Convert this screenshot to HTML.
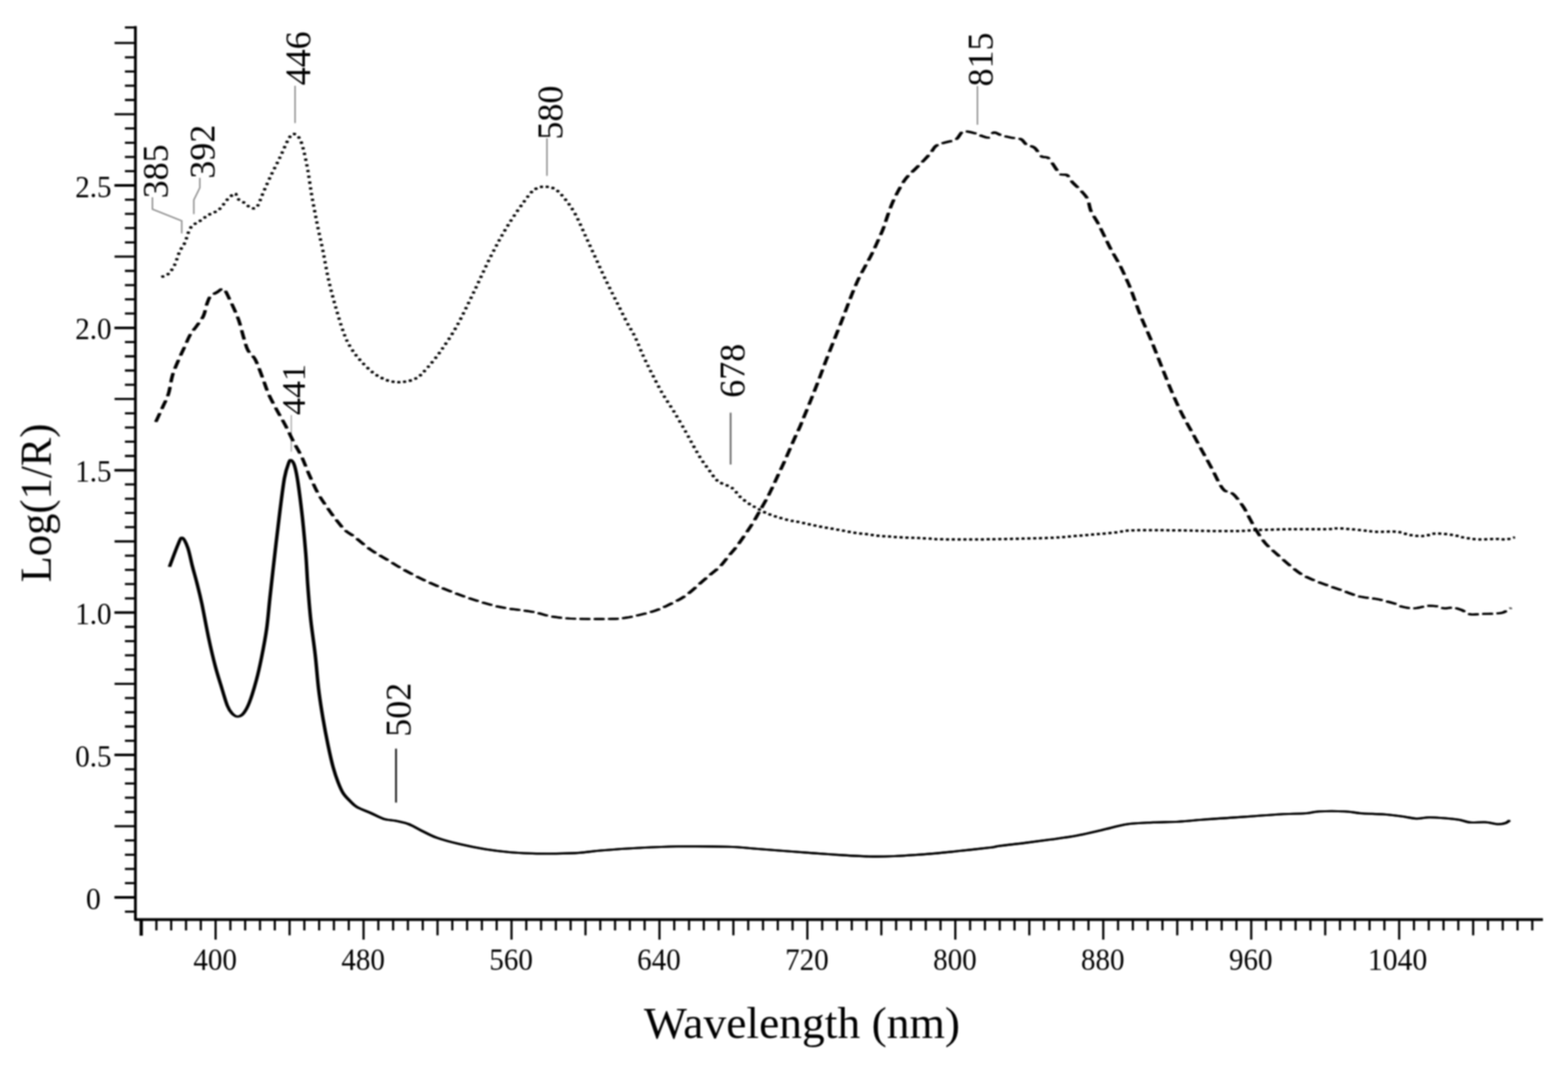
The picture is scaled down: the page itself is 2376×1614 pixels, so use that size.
<!DOCTYPE html>
<html lang="en"><head><meta charset="utf-8"><title>Log(1/R) vs Wavelength (nm)</title>
<style>
html,body{margin:0;padding:0;background:#fff;}
body{width:2376px;height:1614px;overflow:hidden;}
svg{display:block;}
#chart{filter:blur(1px);}
text{font-family:"Liberation Serif",serif;fill:#000;}
.tl{font-size:46.5px;}
.tt{font-size:67px;}
.pk{font-size:54px;}
.ax{stroke:#000;stroke-width:4.2;stroke-linejoin:round;fill:none;}
.tk{stroke:#000;stroke-width:3.3;fill:none;}
.lg{stroke:#8c8c8c;stroke-width:2.2;fill:none;}
.ld{stroke:#111;stroke-width:2.7;fill:none;}
.lm{stroke:#666;stroke-width:2.6;fill:none;}
.lt{stroke:#999;stroke-width:1.6;fill:none;}
.c{fill:none;stroke:#000;stroke-linejoin:round;}
.sol{stroke-width:3.1;}
.dash{stroke-width:3.2;stroke-dasharray:14.5 7;}
.dot{stroke-width:3.5;stroke-dasharray:3.3 5.5;}
</style></head>
<body>
<svg width="2376" height="1614" viewBox="0 0 2376 1614">
<rect width="2376" height="1614" fill="#fff"/>
<g id="chart">
<path d="M205.2 39.5V1393.7H2338" class="ax"/>
<path d="M214 1393.7V1418" class="ax" style="stroke-width:5"/>
<path d="M189.3 1381.6H205.2M173.6 1360.0H205.2M189.3 1338.4H205.2M189.3 1316.8H205.2M189.3 1295.3H205.2M189.3 1273.7H205.2M173.6 1252.1H205.2M189.3 1230.5H205.2M189.3 1208.9H205.2M189.3 1187.4H205.2M189.3 1165.8H205.2M173.6 1144.2H205.2M189.3 1122.6H205.2M189.3 1101.0H205.2M189.3 1079.5H205.2M189.3 1057.9H205.2M173.6 1036.3H205.2M189.3 1014.7H205.2M189.3 993.1H205.2M189.3 971.6H205.2M189.3 950.0H205.2M173.6 928.4H205.2M189.3 906.8H205.2M189.3 885.2H205.2M189.3 863.7H205.2M189.3 842.1H205.2M173.6 820.5H205.2M189.3 798.9H205.2M189.3 777.3H205.2M189.3 755.8H205.2M189.3 734.2H205.2M173.6 712.6H205.2M189.3 691.0H205.2M189.3 669.4H205.2M189.3 647.9H205.2M189.3 626.3H205.2M173.6 604.7H205.2M189.3 583.1H205.2M189.3 561.5H205.2M189.3 540.0H205.2M189.3 518.4H205.2M173.6 496.8H205.2M189.3 475.2H205.2M189.3 453.6H205.2M189.3 432.1H205.2M189.3 410.5H205.2M173.6 388.9H205.2M189.3 367.3H205.2M189.3 345.7H205.2M189.3 324.2H205.2M189.3 302.6H205.2M173.6 281.0H205.2M189.3 259.4H205.2M189.3 237.8H205.2M189.3 216.3H205.2M189.3 194.7H205.2M173.6 173.1H205.2M189.3 151.5H205.2M189.3 129.9H205.2M189.3 108.4H205.2M189.3 86.8H205.2M173.6 65.2H205.2M189.3 41.6H205.2" class="tk"/>
<path d="M173.6 1360.0H205.2M173.6 1144.2H205.2M173.6 928.4H205.2M173.6 712.6H205.2M173.6 496.8H205.2M173.6 281.0H205.2" class="tk" style="stroke-width:3.8"/>
<path d="M237.0 1393.7V1410.0M259.4 1393.7V1410.0M281.9 1393.7V1410.0M304.3 1393.7V1410.0M326.7 1393.7V1424.0M349.1 1393.7V1410.0M371.5 1393.7V1410.0M394.0 1393.7V1410.0M416.4 1393.7V1410.0M438.8 1393.7V1417.5M461.2 1393.7V1410.0M483.6 1393.7V1410.0M506.0 1393.7V1410.0M528.5 1393.7V1410.0M550.9 1393.7V1424.0M573.3 1393.7V1410.0M595.7 1393.7V1410.0M618.1 1393.7V1410.0M640.6 1393.7V1410.0M663.0 1393.7V1417.5M685.4 1393.7V1410.0M707.8 1393.7V1410.0M730.2 1393.7V1410.0M752.6 1393.7V1410.0M775.1 1393.7V1424.0M797.5 1393.7V1410.0M819.9 1393.7V1410.0M842.3 1393.7V1410.0M864.7 1393.7V1410.0M887.2 1393.7V1417.5M909.6 1393.7V1410.0M932.0 1393.7V1410.0M954.4 1393.7V1410.0M976.8 1393.7V1410.0M999.3 1393.7V1424.0M1021.7 1393.7V1410.0M1044.1 1393.7V1410.0M1066.5 1393.7V1410.0M1088.9 1393.7V1410.0M1111.3 1393.7V1417.5M1133.8 1393.7V1410.0M1156.2 1393.7V1410.0M1178.6 1393.7V1410.0M1201.0 1393.7V1410.0M1223.4 1393.7V1424.0M1245.9 1393.7V1410.0M1268.3 1393.7V1410.0M1290.7 1393.7V1410.0M1313.1 1393.7V1410.0M1335.5 1393.7V1417.5M1357.9 1393.7V1410.0M1380.4 1393.7V1410.0M1402.8 1393.7V1410.0M1425.2 1393.7V1410.0M1447.6 1393.7V1424.0M1470.0 1393.7V1410.0M1492.5 1393.7V1410.0M1514.9 1393.7V1410.0M1537.3 1393.7V1410.0M1559.7 1393.7V1417.5M1582.1 1393.7V1410.0M1604.5 1393.7V1410.0M1627.0 1393.7V1410.0M1649.4 1393.7V1410.0M1671.8 1393.7V1424.0M1694.2 1393.7V1410.0M1716.6 1393.7V1410.0M1739.1 1393.7V1410.0M1761.5 1393.7V1410.0M1783.9 1393.7V1417.5M1806.3 1393.7V1410.0M1828.7 1393.7V1410.0M1851.2 1393.7V1410.0M1873.6 1393.7V1410.0M1896.0 1393.7V1424.0M1918.4 1393.7V1410.0M1940.8 1393.7V1410.0M1963.2 1393.7V1410.0M1985.7 1393.7V1410.0M2008.1 1393.7V1417.5M2030.5 1393.7V1410.0M2052.9 1393.7V1410.0M2075.3 1393.7V1410.0M2097.8 1393.7V1410.0M2120.2 1393.7V1424.0M2142.6 1393.7V1410.0M2165.0 1393.7V1410.0M2187.4 1393.7V1410.0M2209.8 1393.7V1410.0M2232.3 1393.7V1417.5M2254.7 1393.7V1410.0M2277.1 1393.7V1410.0M2299.5 1393.7V1410.0M2321.9 1393.7V1410.0" class="tk"/>
<text x="141.6" y="1377.6" class="tl" text-anchor="middle" textLength="22.5" lengthAdjust="spacingAndGlyphs">0</text>
<text x="141.6" y="1161.8" class="tl" text-anchor="middle" textLength="55.0" lengthAdjust="spacingAndGlyphs">0.5</text>
<text x="141.6" y="946.0" class="tl" text-anchor="middle" textLength="55.0" lengthAdjust="spacingAndGlyphs">1.0</text>
<text x="141.6" y="730.2" class="tl" text-anchor="middle" textLength="55.0" lengthAdjust="spacingAndGlyphs">1.5</text>
<text x="141.6" y="514.4" class="tl" text-anchor="middle" textLength="55.0" lengthAdjust="spacingAndGlyphs">2.0</text>
<text x="141.6" y="298.6" class="tl" text-anchor="middle" textLength="55.0" lengthAdjust="spacingAndGlyphs">2.5</text>
<text x="326.0" y="1470.4" class="tl" text-anchor="middle" textLength="66" lengthAdjust="spacingAndGlyphs">400</text>
<text x="550.2" y="1470.4" class="tl" text-anchor="middle" textLength="66" lengthAdjust="spacingAndGlyphs">480</text>
<text x="774.4" y="1470.4" class="tl" text-anchor="middle" textLength="66" lengthAdjust="spacingAndGlyphs">560</text>
<text x="998.6" y="1470.4" class="tl" text-anchor="middle" textLength="66" lengthAdjust="spacingAndGlyphs">640</text>
<text x="1222.7" y="1470.4" class="tl" text-anchor="middle" textLength="66" lengthAdjust="spacingAndGlyphs">720</text>
<text x="1446.9" y="1470.4" class="tl" text-anchor="middle" textLength="66" lengthAdjust="spacingAndGlyphs">800</text>
<text x="1671.1" y="1470.4" class="tl" text-anchor="middle" textLength="66" lengthAdjust="spacingAndGlyphs">880</text>
<text x="1895.3" y="1470.4" class="tl" text-anchor="middle" textLength="66" lengthAdjust="spacingAndGlyphs">960</text>
<text x="2117.7" y="1470.4" class="tl" text-anchor="middle" textLength="90" lengthAdjust="spacingAndGlyphs">1040</text>
<text x="1215.3" y="1572.8" class="tt" text-anchor="middle" textLength="479" lengthAdjust="spacingAndGlyphs">Wavelength (nm)</text>
<text transform="translate(76.9 762.2) rotate(-90)" class="tt" text-anchor="middle" textLength="240.5" lengthAdjust="spacingAndGlyphs">Log(1/R)</text>
<text transform="translate(254.4 300.6) rotate(-90)" class="pk" style="font-size:54.5px">385</text>
<text transform="translate(325.4 270.8) rotate(-90)" class="pk" style="font-size:54.5px">392</text>
<text transform="translate(469.9 129.3) rotate(-90)" class="pk" style="font-size:54.5px">446</text>
<text transform="translate(461.6 628.9) rotate(-90)" class="pk" style="font-size:51.5px">441</text>
<text transform="translate(851.8 211.4) rotate(-90)" class="pk" style="font-size:54.5px">580</text>
<text transform="translate(1127.5 602.8) rotate(-90)" class="pk" style="font-size:54.5px">678</text>
<text transform="translate(1503.7 130.9) rotate(-90)" class="pk" style="font-size:54.5px">815</text>
<text transform="translate(622.0 1116.4) rotate(-90)" class="pk" style="font-size:54.5px">502</text>
<path d="M231 299V317L275.4 334.7V353.7M302.8 269.5V284.6L293.7 303V324.5M447.1 130V186.4M828.8 209.5V266.6M1481.1 130.5V189" class="lg"/>
<path d="M441.4 629V684.5" class="lt"/>
<path d="M1107.1 625.4V704" class="lm"/>
<path d="M600.1 1134.6V1216.3" class="ld"/>
<g class="c dot"><path d="M245.2 419.8C246.9 418.9 252.3 417.7 255.5 414.7C258.7 411.7 261.7 407.3 264.5 401.7C267.3 396.1 269.7 386.6 272.3 381.0C274.9 375.4 277.2 374.0 280.0 368.0C282.8 362.0 285.1 350.6 289.0 345.0C292.9 339.4 298.8 337.8 303.3 334.6C307.8 331.4 311.5 328.4 316.2 325.6C320.9 322.8 327.0 321.7 331.7 317.8C336.4 313.9 340.5 306.4 344.6 302.3C348.7 298.2 353.6 293.5 356.2 293.3C358.8 293.1 357.6 298.6 360.0 301.0C362.4 303.4 366.9 305.1 370.4 307.5C373.8 309.9 377.5 314.3 380.7 315.2C383.9 316.1 386.8 316.6 389.8 312.7C392.8 308.8 395.2 300.2 398.8 292.0C402.4 283.8 407.4 272.6 411.7 263.6C416.0 254.6 420.5 246.4 424.6 237.8C428.7 229.2 433.2 217.8 436.5 212.0C439.8 206.2 441.6 203.4 444.5 203.0C447.4 202.6 451.0 205.3 453.6 209.4C456.2 213.5 457.9 219.3 460.0 227.5C462.1 235.7 464.6 247.6 466.5 258.4C468.4 269.1 470.0 281.7 471.7 292.0C473.4 302.3 475.2 311.4 476.9 320.4C478.6 329.4 479.9 335.9 482.0 346.2C484.1 356.5 487.2 369.5 489.8 382.4C492.4 395.3 494.7 409.9 497.8 423.7C500.9 437.5 504.6 451.4 508.5 465.0C512.4 478.6 517.2 494.8 521.0 505.0C524.8 515.2 527.0 519.3 531.0 526.0C535.0 532.7 539.3 538.6 545.0 545.0C550.7 551.4 558.0 559.2 565.0 564.5C572.0 569.8 579.7 574.1 587.0 576.5C594.3 578.9 601.7 579.6 609.0 579.0C616.3 578.4 624.5 576.7 631.0 573.0C637.5 569.3 641.8 564.0 648.0 557.0C654.2 550.0 661.1 541.6 668.5 531.0C675.9 520.4 684.3 508.3 692.6 493.4C700.9 478.5 709.8 459.4 718.4 441.8C727.0 424.2 735.6 404.3 744.2 387.5C752.8 370.7 760.6 356.1 770.0 341.0C779.4 325.9 793.3 306.2 800.5 297.0C807.7 287.8 808.8 287.9 813.0 285.6C817.2 283.3 821.1 282.8 825.8 283.0C830.5 283.2 836.1 283.6 841.3 286.8C846.5 290.0 851.6 295.8 856.8 302.3C862.0 308.8 867.1 316.2 872.3 325.6C877.5 335.1 882.6 347.8 887.8 359.0C893.0 370.2 898.1 381.5 903.3 392.7C908.5 403.9 913.6 415.5 918.8 426.3C924.0 437.1 929.1 447.0 934.3 457.3C939.5 467.6 945.2 479.4 949.8 488.2C954.4 497.0 957.8 501.4 962.0 510.0C966.2 518.6 970.7 530.7 975.0 540.0C979.3 549.3 983.1 556.8 987.8 566.0C992.5 575.2 997.7 585.8 1003.3 595.5C1008.9 605.2 1015.4 614.1 1021.4 624.0C1027.4 633.9 1034.0 645.4 1039.4 655.0C1044.8 664.6 1049.9 674.3 1054.0 681.5C1058.1 688.7 1060.6 692.9 1064.0 698.0C1067.4 703.1 1070.8 707.4 1074.2 712.0C1077.6 716.6 1081.1 722.5 1084.3 725.9C1087.5 729.3 1089.0 729.9 1093.2 732.2C1097.4 734.5 1104.9 736.2 1109.7 739.8C1114.5 743.4 1117.7 749.5 1122.3 753.7C1126.9 757.9 1133.7 762.5 1137.5 765.0C1141.3 767.5 1141.0 766.9 1145.0 769.0C1149.0 771.1 1155.9 775.3 1161.6 777.8C1167.3 780.3 1173.4 782.2 1179.3 784.0C1185.2 785.8 1192.7 787.8 1197.0 788.8C1201.3 789.8 1200.8 789.1 1205.2 790.0C1209.6 790.9 1217.2 792.6 1223.2 793.9C1229.2 795.2 1235.3 796.6 1241.3 797.8C1247.3 799.0 1253.4 799.9 1259.4 801.0C1265.4 802.1 1271.4 803.1 1277.4 804.2C1283.4 805.3 1289.5 806.6 1295.5 807.5C1301.5 808.4 1307.6 808.9 1313.6 809.6C1319.6 810.4 1325.7 811.4 1331.7 812.0C1337.7 812.6 1343.7 812.9 1349.7 813.3C1355.7 813.7 1361.5 814.2 1367.8 814.5C1374.0 814.8 1381.2 815.0 1387.2 815.2C1393.2 815.5 1398.2 815.7 1404.0 816.0C1409.8 816.3 1413.0 817.0 1422.0 817.2C1431.0 817.5 1445.2 817.5 1458.2 817.5C1471.2 817.5 1484.4 817.5 1500.0 817.3C1515.6 817.1 1535.5 816.6 1551.6 816.2C1567.7 815.8 1583.9 815.5 1596.8 814.9C1609.7 814.2 1618.2 813.2 1629.0 812.3C1639.8 811.4 1650.6 810.7 1661.4 809.7C1672.2 808.7 1685.0 807.5 1693.6 806.5C1702.2 805.5 1702.3 804.4 1713.0 803.9C1723.7 803.4 1744.0 803.6 1758.0 803.6C1772.0 803.6 1785.4 803.7 1797.0 803.9C1808.6 804.1 1813.9 804.5 1827.6 804.6C1841.3 804.7 1866.4 804.8 1879.3 804.6C1892.2 804.4 1892.1 803.7 1905.0 803.3C1917.9 802.9 1939.5 802.2 1956.7 802.0C1973.9 801.8 1996.4 802.2 2008.4 802.0C2020.5 801.8 2020.4 800.5 2029.0 800.7C2037.6 800.9 2050.5 802.4 2060.0 803.3C2069.5 804.2 2076.3 805.5 2085.8 805.9C2095.3 806.3 2108.2 805.0 2116.8 805.9C2125.4 806.8 2130.6 809.9 2137.5 811.0C2144.4 812.1 2151.6 812.7 2158.0 812.3C2164.4 811.9 2168.9 808.6 2176.2 808.4C2183.5 808.2 2194.7 809.9 2202.0 811.0C2209.3 812.1 2213.5 813.9 2220.0 815.0C2226.5 816.1 2233.0 817.2 2240.8 817.5C2248.6 817.8 2259.7 816.7 2266.6 816.7C2273.5 816.7 2277.3 817.9 2282.0 817.5C2286.7 817.1 2292.8 814.9 2295.0 814.4" transform="translate(-0.8 0)"/><path d="M245.2 419.8C246.9 418.9 252.3 417.7 255.5 414.7C258.7 411.7 261.7 407.3 264.5 401.7C267.3 396.1 269.7 386.6 272.3 381.0C274.9 375.4 277.2 374.0 280.0 368.0C282.8 362.0 285.1 350.6 289.0 345.0C292.9 339.4 298.8 337.8 303.3 334.6C307.8 331.4 311.5 328.4 316.2 325.6C320.9 322.8 327.0 321.7 331.7 317.8C336.4 313.9 340.5 306.4 344.6 302.3C348.7 298.2 353.6 293.5 356.2 293.3C358.8 293.1 357.6 298.6 360.0 301.0C362.4 303.4 366.9 305.1 370.4 307.5C373.8 309.9 377.5 314.3 380.7 315.2C383.9 316.1 386.8 316.6 389.8 312.7C392.8 308.8 395.2 300.2 398.8 292.0C402.4 283.8 407.4 272.6 411.7 263.6C416.0 254.6 420.5 246.4 424.6 237.8C428.7 229.2 433.2 217.8 436.5 212.0C439.8 206.2 441.6 203.4 444.5 203.0C447.4 202.6 451.0 205.3 453.6 209.4C456.2 213.5 457.9 219.3 460.0 227.5C462.1 235.7 464.6 247.6 466.5 258.4C468.4 269.1 470.0 281.7 471.7 292.0C473.4 302.3 475.2 311.4 476.9 320.4C478.6 329.4 479.9 335.9 482.0 346.2C484.1 356.5 487.2 369.5 489.8 382.4C492.4 395.3 494.7 409.9 497.8 423.7C500.9 437.5 504.6 451.4 508.5 465.0C512.4 478.6 517.2 494.8 521.0 505.0C524.8 515.2 527.0 519.3 531.0 526.0C535.0 532.7 539.3 538.6 545.0 545.0C550.7 551.4 558.0 559.2 565.0 564.5C572.0 569.8 579.7 574.1 587.0 576.5C594.3 578.9 601.7 579.6 609.0 579.0C616.3 578.4 624.5 576.7 631.0 573.0C637.5 569.3 641.8 564.0 648.0 557.0C654.2 550.0 661.1 541.6 668.5 531.0C675.9 520.4 684.3 508.3 692.6 493.4C700.9 478.5 709.8 459.4 718.4 441.8C727.0 424.2 735.6 404.3 744.2 387.5C752.8 370.7 760.6 356.1 770.0 341.0C779.4 325.9 793.3 306.2 800.5 297.0C807.7 287.8 808.8 287.9 813.0 285.6C817.2 283.3 821.1 282.8 825.8 283.0C830.5 283.2 836.1 283.6 841.3 286.8C846.5 290.0 851.6 295.8 856.8 302.3C862.0 308.8 867.1 316.2 872.3 325.6C877.5 335.1 882.6 347.8 887.8 359.0C893.0 370.2 898.1 381.5 903.3 392.7C908.5 403.9 913.6 415.5 918.8 426.3C924.0 437.1 929.1 447.0 934.3 457.3C939.5 467.6 945.2 479.4 949.8 488.2C954.4 497.0 957.8 501.4 962.0 510.0C966.2 518.6 970.7 530.7 975.0 540.0C979.3 549.3 983.1 556.8 987.8 566.0C992.5 575.2 997.7 585.8 1003.3 595.5C1008.9 605.2 1015.4 614.1 1021.4 624.0C1027.4 633.9 1034.0 645.4 1039.4 655.0C1044.8 664.6 1049.9 674.3 1054.0 681.5C1058.1 688.7 1060.6 692.9 1064.0 698.0C1067.4 703.1 1070.8 707.4 1074.2 712.0C1077.6 716.6 1081.1 722.5 1084.3 725.9C1087.5 729.3 1089.0 729.9 1093.2 732.2C1097.4 734.5 1104.9 736.2 1109.7 739.8C1114.5 743.4 1117.7 749.5 1122.3 753.7C1126.9 757.9 1133.7 762.5 1137.5 765.0C1141.3 767.5 1141.0 766.9 1145.0 769.0C1149.0 771.1 1155.9 775.3 1161.6 777.8C1167.3 780.3 1173.4 782.2 1179.3 784.0C1185.2 785.8 1192.7 787.8 1197.0 788.8C1201.3 789.8 1200.8 789.1 1205.2 790.0C1209.6 790.9 1217.2 792.6 1223.2 793.9C1229.2 795.2 1235.3 796.6 1241.3 797.8C1247.3 799.0 1253.4 799.9 1259.4 801.0C1265.4 802.1 1271.4 803.1 1277.4 804.2C1283.4 805.3 1289.5 806.6 1295.5 807.5C1301.5 808.4 1307.6 808.9 1313.6 809.6C1319.6 810.4 1325.7 811.4 1331.7 812.0C1337.7 812.6 1343.7 812.9 1349.7 813.3C1355.7 813.7 1361.5 814.2 1367.8 814.5C1374.0 814.8 1381.2 815.0 1387.2 815.2C1393.2 815.5 1398.2 815.7 1404.0 816.0C1409.8 816.3 1413.0 817.0 1422.0 817.2C1431.0 817.5 1445.2 817.5 1458.2 817.5C1471.2 817.5 1484.4 817.5 1500.0 817.3C1515.6 817.1 1535.5 816.6 1551.6 816.2C1567.7 815.8 1583.9 815.5 1596.8 814.9C1609.7 814.2 1618.2 813.2 1629.0 812.3C1639.8 811.4 1650.6 810.7 1661.4 809.7C1672.2 808.7 1685.0 807.5 1693.6 806.5C1702.2 805.5 1702.3 804.4 1713.0 803.9C1723.7 803.4 1744.0 803.6 1758.0 803.6C1772.0 803.6 1785.4 803.7 1797.0 803.9C1808.6 804.1 1813.9 804.5 1827.6 804.6C1841.3 804.7 1866.4 804.8 1879.3 804.6C1892.2 804.4 1892.1 803.7 1905.0 803.3C1917.9 802.9 1939.5 802.2 1956.7 802.0C1973.9 801.8 1996.4 802.2 2008.4 802.0C2020.5 801.8 2020.4 800.5 2029.0 800.7C2037.6 800.9 2050.5 802.4 2060.0 803.3C2069.5 804.2 2076.3 805.5 2085.8 805.9C2095.3 806.3 2108.2 805.0 2116.8 805.9C2125.4 806.8 2130.6 809.9 2137.5 811.0C2144.4 812.1 2151.6 812.7 2158.0 812.3C2164.4 811.9 2168.9 808.6 2176.2 808.4C2183.5 808.2 2194.7 809.9 2202.0 811.0C2209.3 812.1 2213.5 813.9 2220.0 815.0C2226.5 816.1 2233.0 817.2 2240.8 817.5C2248.6 817.8 2259.7 816.7 2266.6 816.7C2273.5 816.7 2277.3 817.9 2282.0 817.5C2286.7 817.1 2292.8 814.9 2295.0 814.4" transform="translate(0.8 0)"/></g>
<g class="c dash"><path d="M236.1 639.4C237.8 635.8 242.8 625.1 246.0 618.0C249.2 610.9 252.6 605.2 255.2 597.0C257.8 588.8 258.8 577.5 261.5 568.5C264.2 559.5 268.5 550.4 271.7 543.0C274.9 535.6 277.8 529.9 280.5 524.0C283.2 518.1 285.0 512.8 288.0 507.7C291.0 502.6 294.9 498.6 298.3 493.7C301.7 488.8 305.9 484.0 308.4 478.5C310.9 473.0 311.8 465.7 313.5 460.8C315.2 455.9 316.0 452.4 318.5 449.4C321.0 446.4 325.3 444.9 328.7 443.0C332.1 441.1 335.6 436.3 338.8 438.0C342.0 439.7 344.8 447.5 347.7 453.2C350.6 458.9 354.0 466.3 356.5 472.2C359.0 478.1 360.8 482.1 362.9 488.7C365.0 495.2 367.1 504.5 369.2 511.5C371.3 518.5 372.8 525.2 375.5 530.5C378.2 535.8 382.9 538.6 385.7 543.0C388.4 547.4 389.7 551.3 392.0 557.0C394.3 562.7 397.1 570.5 399.6 577.3C402.1 584.1 403.9 590.2 407.2 597.6C410.5 605.0 415.3 613.6 419.5 621.4C423.7 629.2 428.1 636.4 432.4 644.6C436.7 652.8 441.1 662.3 445.3 670.4C449.5 678.5 453.6 684.6 457.5 693.0C461.4 701.4 464.9 711.4 469.0 720.5C473.1 729.6 477.5 739.8 481.8 747.6C486.1 755.4 490.2 760.9 494.7 767.4C499.1 773.9 503.8 780.6 508.5 786.6C513.2 792.6 518.2 799.1 522.7 803.4C527.2 807.7 529.2 807.5 535.7 812.4C542.2 817.3 552.9 827.0 561.5 833.0C570.1 839.0 578.7 843.4 587.3 848.6C595.9 853.8 602.3 858.2 613.0 864.0C623.7 869.8 636.6 876.6 651.6 883.3C666.6 890.0 686.1 898.0 703.3 904.0C720.5 910.0 737.8 915.5 755.0 919.4C772.2 923.3 793.7 924.8 806.6 927.2C819.5 929.6 823.8 932.0 832.4 933.6C841.0 935.2 849.6 936.3 858.2 937.0C866.8 937.7 873.2 937.8 884.0 938.0C894.8 938.2 912.0 938.3 922.8 938.0C933.6 937.7 937.9 938.0 948.6 936.2C959.4 934.4 976.6 930.4 987.3 927.2C998.0 924.0 1004.4 920.9 1013.0 916.8C1021.6 912.7 1030.4 908.6 1039.0 902.6C1047.6 896.6 1058.2 886.2 1064.7 880.7C1071.2 875.2 1073.7 873.1 1078.0 869.5C1082.3 865.9 1086.5 863.2 1090.7 858.9C1094.9 854.6 1099.1 848.8 1103.3 843.7C1107.5 838.6 1111.8 834.0 1116.0 828.5C1120.2 823.0 1124.5 816.8 1128.7 810.7C1132.9 804.6 1137.5 797.8 1141.3 791.7C1145.1 785.6 1148.1 779.9 1151.5 774.0C1154.9 768.1 1158.4 762.2 1161.6 756.3C1164.8 750.4 1167.5 744.6 1170.5 738.5C1173.5 732.4 1176.3 725.8 1179.3 719.5C1182.2 713.2 1185.2 707.0 1188.2 700.5C1191.2 694.0 1194.1 686.9 1197.0 680.3C1199.9 673.7 1202.9 666.7 1205.5 661.0C1208.1 655.3 1210.4 650.8 1212.5 646.0C1214.6 641.2 1215.2 639.3 1218.0 632.4C1220.8 625.5 1225.6 614.0 1229.4 604.5C1233.2 595.0 1237.0 585.3 1240.8 575.4C1244.6 565.5 1248.3 555.1 1252.2 545.0C1256.1 534.9 1260.2 524.7 1264.2 514.6C1268.2 504.5 1272.8 493.2 1276.3 484.2C1279.8 475.2 1282.5 467.7 1285.3 460.5C1288.1 453.3 1290.2 447.7 1292.9 441.1C1295.7 434.5 1298.6 427.4 1301.8 420.9C1305.0 414.4 1308.7 407.8 1311.9 401.9C1315.1 396.0 1317.8 391.3 1320.8 385.4C1323.8 379.5 1326.8 372.9 1329.7 366.4C1332.7 359.8 1336.0 352.7 1338.5 346.1C1341.0 339.6 1342.6 333.6 1344.9 327.1C1347.2 320.6 1349.8 313.2 1352.5 306.9C1355.2 300.6 1358.3 294.6 1361.3 289.1C1364.2 283.6 1367.6 277.8 1370.2 273.9C1372.8 270.0 1374.2 268.5 1377.0 265.5C1379.8 262.5 1383.2 259.8 1387.0 256.0C1390.8 252.2 1396.1 247.1 1400.0 243.0C1403.9 238.9 1407.3 235.3 1410.3 231.7C1413.3 228.1 1414.5 224.0 1418.0 221.4C1421.5 218.8 1425.8 217.9 1431.0 216.2C1436.2 214.5 1444.3 213.8 1449.0 211.0C1453.7 208.2 1454.7 200.9 1459.4 199.4C1464.2 197.9 1472.8 200.9 1477.5 202.0C1482.2 203.1 1484.4 204.9 1487.8 206.0C1491.2 207.1 1495.0 209.4 1498.0 208.5C1501.0 207.6 1502.9 201.3 1505.9 200.7C1508.9 200.0 1511.9 203.3 1516.2 204.6C1520.5 205.9 1526.5 207.4 1531.7 208.5C1536.9 209.6 1543.3 209.3 1547.2 211.0C1551.1 212.7 1551.6 216.6 1555.0 218.8C1558.4 221.0 1563.9 221.0 1567.8 224.0C1571.7 227.0 1574.8 234.4 1578.2 237.0C1581.7 239.6 1585.1 236.7 1588.5 239.5C1591.9 242.3 1595.8 249.6 1598.8 253.7C1601.8 257.8 1603.6 262.1 1606.6 264.0C1609.6 265.9 1613.9 263.4 1616.9 265.3C1619.9 267.2 1621.2 271.7 1624.6 275.6C1628.0 279.5 1633.6 284.2 1637.5 288.5C1641.4 292.8 1645.3 296.2 1647.9 301.4C1650.5 306.6 1650.4 313.5 1653.0 319.5C1655.6 325.5 1660.0 331.2 1663.4 337.6C1666.9 344.1 1670.3 351.3 1673.7 358.2C1677.1 365.1 1680.1 371.6 1684.0 378.9C1687.9 386.2 1693.1 394.5 1697.0 402.0C1700.9 409.5 1704.5 417.9 1707.3 424.0C1710.1 430.1 1710.0 429.4 1713.6 438.7C1717.2 448.0 1723.8 467.1 1729.0 480.0C1734.2 492.9 1739.4 503.7 1744.6 516.2C1749.8 528.7 1754.8 542.1 1760.0 555.0C1765.2 567.9 1770.4 581.6 1775.6 593.6C1780.8 605.6 1785.8 616.9 1791.0 627.2C1796.2 637.5 1801.4 646.1 1806.6 655.6C1811.8 665.1 1816.8 674.5 1822.0 684.0C1827.2 693.5 1833.2 704.2 1837.5 712.4C1841.8 720.6 1844.9 727.8 1847.9 733.0C1850.9 738.2 1852.2 740.8 1855.6 743.4C1859.0 746.0 1863.8 744.5 1868.5 748.6C1873.2 752.7 1879.6 761.5 1884.0 768.0C1888.4 774.5 1891.3 781.5 1894.8 787.8C1898.3 794.1 1901.1 799.9 1905.0 805.9C1908.9 811.9 1912.8 818.2 1918.0 824.0C1923.2 829.8 1929.5 834.9 1936.0 840.7C1942.5 846.5 1950.7 853.8 1956.7 858.8C1962.7 863.8 1967.0 867.2 1972.2 870.4C1977.4 873.6 1981.7 875.4 1987.7 878.0C1993.7 880.6 2000.7 883.2 2008.4 886.0C2016.2 888.8 2025.6 892.0 2034.2 895.0C2042.8 898.0 2051.4 901.9 2060.0 904.0C2068.6 906.1 2077.2 906.1 2085.8 907.8C2094.4 909.5 2105.2 912.3 2111.7 914.3C2118.2 916.2 2119.4 918.2 2124.6 919.5C2129.8 920.8 2136.1 922.2 2142.6 922.0C2149.1 921.8 2157.3 918.7 2163.3 918.2C2169.3 917.7 2174.5 918.4 2178.8 919.0C2183.1 919.6 2185.1 921.7 2189.0 922.0C2192.9 922.3 2197.7 920.4 2202.0 920.8C2206.3 921.2 2210.7 922.9 2215.0 924.6C2219.3 926.3 2222.6 930.0 2227.8 931.0C2233.0 932.0 2239.5 930.7 2246.0 930.5C2252.5 930.3 2261.4 930.1 2266.6 929.8C2271.8 929.5 2274.1 929.3 2277.0 928.5C2279.9 927.7 2281.9 926.2 2284.0 925.0C2286.1 923.8 2288.6 922.1 2289.5 921.5" transform="translate(-1.1 0)"/><path d="M236.1 639.4C237.8 635.8 242.8 625.1 246.0 618.0C249.2 610.9 252.6 605.2 255.2 597.0C257.8 588.8 258.8 577.5 261.5 568.5C264.2 559.5 268.5 550.4 271.7 543.0C274.9 535.6 277.8 529.9 280.5 524.0C283.2 518.1 285.0 512.8 288.0 507.7C291.0 502.6 294.9 498.6 298.3 493.7C301.7 488.8 305.9 484.0 308.4 478.5C310.9 473.0 311.8 465.7 313.5 460.8C315.2 455.9 316.0 452.4 318.5 449.4C321.0 446.4 325.3 444.9 328.7 443.0C332.1 441.1 335.6 436.3 338.8 438.0C342.0 439.7 344.8 447.5 347.7 453.2C350.6 458.9 354.0 466.3 356.5 472.2C359.0 478.1 360.8 482.1 362.9 488.7C365.0 495.2 367.1 504.5 369.2 511.5C371.3 518.5 372.8 525.2 375.5 530.5C378.2 535.8 382.9 538.6 385.7 543.0C388.4 547.4 389.7 551.3 392.0 557.0C394.3 562.7 397.1 570.5 399.6 577.3C402.1 584.1 403.9 590.2 407.2 597.6C410.5 605.0 415.3 613.6 419.5 621.4C423.7 629.2 428.1 636.4 432.4 644.6C436.7 652.8 441.1 662.3 445.3 670.4C449.5 678.5 453.6 684.6 457.5 693.0C461.4 701.4 464.9 711.4 469.0 720.5C473.1 729.6 477.5 739.8 481.8 747.6C486.1 755.4 490.2 760.9 494.7 767.4C499.1 773.9 503.8 780.6 508.5 786.6C513.2 792.6 518.2 799.1 522.7 803.4C527.2 807.7 529.2 807.5 535.7 812.4C542.2 817.3 552.9 827.0 561.5 833.0C570.1 839.0 578.7 843.4 587.3 848.6C595.9 853.8 602.3 858.2 613.0 864.0C623.7 869.8 636.6 876.6 651.6 883.3C666.6 890.0 686.1 898.0 703.3 904.0C720.5 910.0 737.8 915.5 755.0 919.4C772.2 923.3 793.7 924.8 806.6 927.2C819.5 929.6 823.8 932.0 832.4 933.6C841.0 935.2 849.6 936.3 858.2 937.0C866.8 937.7 873.2 937.8 884.0 938.0C894.8 938.2 912.0 938.3 922.8 938.0C933.6 937.7 937.9 938.0 948.6 936.2C959.4 934.4 976.6 930.4 987.3 927.2C998.0 924.0 1004.4 920.9 1013.0 916.8C1021.6 912.7 1030.4 908.6 1039.0 902.6C1047.6 896.6 1058.2 886.2 1064.7 880.7C1071.2 875.2 1073.7 873.1 1078.0 869.5C1082.3 865.9 1086.5 863.2 1090.7 858.9C1094.9 854.6 1099.1 848.8 1103.3 843.7C1107.5 838.6 1111.8 834.0 1116.0 828.5C1120.2 823.0 1124.5 816.8 1128.7 810.7C1132.9 804.6 1137.5 797.8 1141.3 791.7C1145.1 785.6 1148.1 779.9 1151.5 774.0C1154.9 768.1 1158.4 762.2 1161.6 756.3C1164.8 750.4 1167.5 744.6 1170.5 738.5C1173.5 732.4 1176.3 725.8 1179.3 719.5C1182.2 713.2 1185.2 707.0 1188.2 700.5C1191.2 694.0 1194.1 686.9 1197.0 680.3C1199.9 673.7 1202.9 666.7 1205.5 661.0C1208.1 655.3 1210.4 650.8 1212.5 646.0C1214.6 641.2 1215.2 639.3 1218.0 632.4C1220.8 625.5 1225.6 614.0 1229.4 604.5C1233.2 595.0 1237.0 585.3 1240.8 575.4C1244.6 565.5 1248.3 555.1 1252.2 545.0C1256.1 534.9 1260.2 524.7 1264.2 514.6C1268.2 504.5 1272.8 493.2 1276.3 484.2C1279.8 475.2 1282.5 467.7 1285.3 460.5C1288.1 453.3 1290.2 447.7 1292.9 441.1C1295.7 434.5 1298.6 427.4 1301.8 420.9C1305.0 414.4 1308.7 407.8 1311.9 401.9C1315.1 396.0 1317.8 391.3 1320.8 385.4C1323.8 379.5 1326.8 372.9 1329.7 366.4C1332.7 359.8 1336.0 352.7 1338.5 346.1C1341.0 339.6 1342.6 333.6 1344.9 327.1C1347.2 320.6 1349.8 313.2 1352.5 306.9C1355.2 300.6 1358.3 294.6 1361.3 289.1C1364.2 283.6 1367.6 277.8 1370.2 273.9C1372.8 270.0 1374.2 268.5 1377.0 265.5C1379.8 262.5 1383.2 259.8 1387.0 256.0C1390.8 252.2 1396.1 247.1 1400.0 243.0C1403.9 238.9 1407.3 235.3 1410.3 231.7C1413.3 228.1 1414.5 224.0 1418.0 221.4C1421.5 218.8 1425.8 217.9 1431.0 216.2C1436.2 214.5 1444.3 213.8 1449.0 211.0C1453.7 208.2 1454.7 200.9 1459.4 199.4C1464.2 197.9 1472.8 200.9 1477.5 202.0C1482.2 203.1 1484.4 204.9 1487.8 206.0C1491.2 207.1 1495.0 209.4 1498.0 208.5C1501.0 207.6 1502.9 201.3 1505.9 200.7C1508.9 200.0 1511.9 203.3 1516.2 204.6C1520.5 205.9 1526.5 207.4 1531.7 208.5C1536.9 209.6 1543.3 209.3 1547.2 211.0C1551.1 212.7 1551.6 216.6 1555.0 218.8C1558.4 221.0 1563.9 221.0 1567.8 224.0C1571.7 227.0 1574.8 234.4 1578.2 237.0C1581.7 239.6 1585.1 236.7 1588.5 239.5C1591.9 242.3 1595.8 249.6 1598.8 253.7C1601.8 257.8 1603.6 262.1 1606.6 264.0C1609.6 265.9 1613.9 263.4 1616.9 265.3C1619.9 267.2 1621.2 271.7 1624.6 275.6C1628.0 279.5 1633.6 284.2 1637.5 288.5C1641.4 292.8 1645.3 296.2 1647.9 301.4C1650.5 306.6 1650.4 313.5 1653.0 319.5C1655.6 325.5 1660.0 331.2 1663.4 337.6C1666.9 344.1 1670.3 351.3 1673.7 358.2C1677.1 365.1 1680.1 371.6 1684.0 378.9C1687.9 386.2 1693.1 394.5 1697.0 402.0C1700.9 409.5 1704.5 417.9 1707.3 424.0C1710.1 430.1 1710.0 429.4 1713.6 438.7C1717.2 448.0 1723.8 467.1 1729.0 480.0C1734.2 492.9 1739.4 503.7 1744.6 516.2C1749.8 528.7 1754.8 542.1 1760.0 555.0C1765.2 567.9 1770.4 581.6 1775.6 593.6C1780.8 605.6 1785.8 616.9 1791.0 627.2C1796.2 637.5 1801.4 646.1 1806.6 655.6C1811.8 665.1 1816.8 674.5 1822.0 684.0C1827.2 693.5 1833.2 704.2 1837.5 712.4C1841.8 720.6 1844.9 727.8 1847.9 733.0C1850.9 738.2 1852.2 740.8 1855.6 743.4C1859.0 746.0 1863.8 744.5 1868.5 748.6C1873.2 752.7 1879.6 761.5 1884.0 768.0C1888.4 774.5 1891.3 781.5 1894.8 787.8C1898.3 794.1 1901.1 799.9 1905.0 805.9C1908.9 811.9 1912.8 818.2 1918.0 824.0C1923.2 829.8 1929.5 834.9 1936.0 840.7C1942.5 846.5 1950.7 853.8 1956.7 858.8C1962.7 863.8 1967.0 867.2 1972.2 870.4C1977.4 873.6 1981.7 875.4 1987.7 878.0C1993.7 880.6 2000.7 883.2 2008.4 886.0C2016.2 888.8 2025.6 892.0 2034.2 895.0C2042.8 898.0 2051.4 901.9 2060.0 904.0C2068.6 906.1 2077.2 906.1 2085.8 907.8C2094.4 909.5 2105.2 912.3 2111.7 914.3C2118.2 916.2 2119.4 918.2 2124.6 919.5C2129.8 920.8 2136.1 922.2 2142.6 922.0C2149.1 921.8 2157.3 918.7 2163.3 918.2C2169.3 917.7 2174.5 918.4 2178.8 919.0C2183.1 919.6 2185.1 921.7 2189.0 922.0C2192.9 922.3 2197.7 920.4 2202.0 920.8C2206.3 921.2 2210.7 922.9 2215.0 924.6C2219.3 926.3 2222.6 930.0 2227.8 931.0C2233.0 932.0 2239.5 930.7 2246.0 930.5C2252.5 930.3 2261.4 930.1 2266.6 929.8C2271.8 929.5 2274.1 929.3 2277.0 928.5C2279.9 927.7 2281.9 926.2 2284.0 925.0C2286.1 923.8 2288.6 922.1 2289.5 921.5" transform="translate(1.1 0)"/></g>
<g class="c sol"><path d="M256.8 859.0C258.9 853.4 266.5 832.6 269.7 825.3C272.9 818.0 273.7 814.2 276.2 815.0C278.7 815.8 281.9 822.8 284.5 830.0C287.1 837.2 289.2 849.0 291.5 858.0C293.8 867.0 296.1 874.6 298.5 884.0C300.9 893.4 302.9 900.8 305.8 914.5C308.7 928.2 312.6 950.3 316.0 966.2C319.4 982.1 322.9 997.1 326.3 1010.0C329.7 1022.9 333.3 1033.7 336.3 1043.6C339.3 1053.5 342.0 1063.3 344.5 1069.5C347.0 1075.7 348.9 1078.2 351.5 1081.0C354.1 1083.8 357.1 1086.0 360.0 1086.0C362.9 1086.0 366.0 1084.6 369.0 1081.0C372.0 1077.4 374.8 1072.7 378.0 1064.3C381.2 1055.9 385.5 1041.9 388.5 1030.7C391.5 1019.5 393.6 1009.9 396.2 997.0C398.8 984.1 401.9 968.5 404.0 953.3C406.1 938.1 406.9 925.6 409.0 906.0C411.1 886.4 414.3 858.2 416.9 835.7C419.5 813.2 422.2 789.5 424.6 771.0C427.0 752.5 428.9 736.2 431.0 724.6C433.1 713.0 435.8 705.9 437.5 701.4C439.2 696.9 439.9 696.6 441.4 697.5C442.9 698.4 444.9 700.8 446.6 706.6C448.3 712.4 449.8 719.5 451.7 732.4C453.6 745.3 456.2 766.1 458.2 784.0C460.1 801.9 462.0 822.5 463.4 840.0C464.8 857.5 465.2 872.0 466.5 888.7C467.8 905.4 469.1 923.2 471.0 940.4C472.9 957.6 475.7 974.8 477.6 992.0C479.6 1009.2 480.8 1027.7 482.7 1043.6C484.6 1059.5 486.8 1073.3 489.2 1087.5C491.6 1101.7 494.4 1116.4 497.0 1128.9C499.6 1141.4 502.1 1152.9 504.7 1162.4C507.3 1171.9 509.8 1179.0 512.4 1185.7C515.0 1192.4 517.2 1197.7 520.2 1202.4C523.2 1207.1 527.1 1210.6 530.5 1214.0C533.9 1217.4 535.6 1220.0 540.8 1223.0C546.0 1226.0 554.6 1229.0 561.5 1232.0C568.4 1235.0 575.6 1239.2 582.0 1241.2C588.4 1243.2 593.8 1242.7 600.0 1244.0C606.2 1245.3 612.9 1246.5 619.4 1249.0C625.9 1251.5 631.6 1255.4 638.7 1258.8C645.8 1262.2 652.3 1266.2 662.0 1269.6C671.7 1273.0 684.5 1276.4 696.8 1279.3C709.1 1282.2 722.7 1284.9 735.6 1287.0C748.5 1289.1 761.4 1290.6 774.3 1291.7C787.2 1292.8 796.9 1293.4 813.0 1293.6C829.1 1293.8 854.9 1293.7 871.0 1292.9C887.1 1292.1 893.6 1290.3 909.8 1289.0C926.0 1287.7 948.6 1286.0 968.0 1285.0C987.4 1284.0 1003.4 1283.1 1026.0 1282.8C1048.6 1282.5 1084.1 1282.7 1103.5 1283.2C1122.9 1283.7 1126.1 1284.8 1142.2 1286.0C1158.3 1287.2 1180.9 1289.0 1200.3 1290.5C1219.7 1292.0 1239.0 1293.5 1258.4 1294.8C1277.8 1296.0 1300.4 1297.5 1316.5 1298.0C1332.6 1298.5 1339.1 1298.2 1355.2 1297.5C1371.3 1296.8 1397.2 1294.9 1413.3 1293.6C1429.4 1292.3 1437.5 1291.3 1452.0 1289.8C1466.5 1288.3 1489.5 1285.8 1500.0 1284.5C1510.5 1283.2 1505.8 1283.2 1514.7 1282.0C1523.6 1280.8 1540.6 1279.0 1553.5 1277.4C1566.4 1275.8 1579.3 1274.1 1592.2 1272.3C1605.1 1270.5 1618.1 1268.9 1631.0 1266.5C1643.9 1264.1 1656.7 1260.9 1669.6 1258.0C1682.5 1255.1 1695.5 1250.9 1708.4 1249.0C1721.3 1247.1 1734.1 1247.0 1747.0 1246.4C1759.9 1245.8 1772.9 1245.9 1785.8 1245.2C1798.7 1244.5 1811.7 1243.0 1824.6 1242.0C1837.5 1241.0 1850.4 1240.3 1863.3 1239.4C1876.2 1238.5 1889.1 1237.6 1902.0 1236.7C1914.9 1235.8 1927.9 1234.7 1940.8 1234.0C1953.7 1233.3 1969.8 1233.2 1979.5 1232.5C1989.2 1231.8 1989.2 1230.2 1998.9 1229.7C2008.6 1229.2 2026.6 1229.2 2037.6 1229.7C2048.6 1230.2 2055.0 1232.1 2064.7 1232.8C2074.4 1233.5 2085.4 1233.2 2095.7 1234.0C2106.0 1234.8 2118.2 1236.4 2126.6 1237.5C2135.0 1238.6 2139.5 1240.4 2146.0 1240.6C2152.5 1240.8 2157.7 1238.8 2165.4 1238.7C2173.2 1238.6 2184.8 1239.6 2192.5 1240.2C2200.2 1240.8 2206.1 1241.5 2211.9 1242.5C2217.7 1243.5 2221.0 1245.8 2227.4 1246.4C2233.8 1247.0 2243.5 1245.6 2250.6 1246.0C2257.7 1246.4 2264.8 1248.8 2270.0 1249.0C2275.2 1249.2 2278.7 1248.2 2281.6 1247.2C2284.5 1246.2 2286.4 1244.0 2287.4 1243.3" transform="translate(-1.1 0)"/><path d="M256.8 859.0C258.9 853.4 266.5 832.6 269.7 825.3C272.9 818.0 273.7 814.2 276.2 815.0C278.7 815.8 281.9 822.8 284.5 830.0C287.1 837.2 289.2 849.0 291.5 858.0C293.8 867.0 296.1 874.6 298.5 884.0C300.9 893.4 302.9 900.8 305.8 914.5C308.7 928.2 312.6 950.3 316.0 966.2C319.4 982.1 322.9 997.1 326.3 1010.0C329.7 1022.9 333.3 1033.7 336.3 1043.6C339.3 1053.5 342.0 1063.3 344.5 1069.5C347.0 1075.7 348.9 1078.2 351.5 1081.0C354.1 1083.8 357.1 1086.0 360.0 1086.0C362.9 1086.0 366.0 1084.6 369.0 1081.0C372.0 1077.4 374.8 1072.7 378.0 1064.3C381.2 1055.9 385.5 1041.9 388.5 1030.7C391.5 1019.5 393.6 1009.9 396.2 997.0C398.8 984.1 401.9 968.5 404.0 953.3C406.1 938.1 406.9 925.6 409.0 906.0C411.1 886.4 414.3 858.2 416.9 835.7C419.5 813.2 422.2 789.5 424.6 771.0C427.0 752.5 428.9 736.2 431.0 724.6C433.1 713.0 435.8 705.9 437.5 701.4C439.2 696.9 439.9 696.6 441.4 697.5C442.9 698.4 444.9 700.8 446.6 706.6C448.3 712.4 449.8 719.5 451.7 732.4C453.6 745.3 456.2 766.1 458.2 784.0C460.1 801.9 462.0 822.5 463.4 840.0C464.8 857.5 465.2 872.0 466.5 888.7C467.8 905.4 469.1 923.2 471.0 940.4C472.9 957.6 475.7 974.8 477.6 992.0C479.6 1009.2 480.8 1027.7 482.7 1043.6C484.6 1059.5 486.8 1073.3 489.2 1087.5C491.6 1101.7 494.4 1116.4 497.0 1128.9C499.6 1141.4 502.1 1152.9 504.7 1162.4C507.3 1171.9 509.8 1179.0 512.4 1185.7C515.0 1192.4 517.2 1197.7 520.2 1202.4C523.2 1207.1 527.1 1210.6 530.5 1214.0C533.9 1217.4 535.6 1220.0 540.8 1223.0C546.0 1226.0 554.6 1229.0 561.5 1232.0C568.4 1235.0 575.6 1239.2 582.0 1241.2C588.4 1243.2 593.8 1242.7 600.0 1244.0C606.2 1245.3 612.9 1246.5 619.4 1249.0C625.9 1251.5 631.6 1255.4 638.7 1258.8C645.8 1262.2 652.3 1266.2 662.0 1269.6C671.7 1273.0 684.5 1276.4 696.8 1279.3C709.1 1282.2 722.7 1284.9 735.6 1287.0C748.5 1289.1 761.4 1290.6 774.3 1291.7C787.2 1292.8 796.9 1293.4 813.0 1293.6C829.1 1293.8 854.9 1293.7 871.0 1292.9C887.1 1292.1 893.6 1290.3 909.8 1289.0C926.0 1287.7 948.6 1286.0 968.0 1285.0C987.4 1284.0 1003.4 1283.1 1026.0 1282.8C1048.6 1282.5 1084.1 1282.7 1103.5 1283.2C1122.9 1283.7 1126.1 1284.8 1142.2 1286.0C1158.3 1287.2 1180.9 1289.0 1200.3 1290.5C1219.7 1292.0 1239.0 1293.5 1258.4 1294.8C1277.8 1296.0 1300.4 1297.5 1316.5 1298.0C1332.6 1298.5 1339.1 1298.2 1355.2 1297.5C1371.3 1296.8 1397.2 1294.9 1413.3 1293.6C1429.4 1292.3 1437.5 1291.3 1452.0 1289.8C1466.5 1288.3 1489.5 1285.8 1500.0 1284.5C1510.5 1283.2 1505.8 1283.2 1514.7 1282.0C1523.6 1280.8 1540.6 1279.0 1553.5 1277.4C1566.4 1275.8 1579.3 1274.1 1592.2 1272.3C1605.1 1270.5 1618.1 1268.9 1631.0 1266.5C1643.9 1264.1 1656.7 1260.9 1669.6 1258.0C1682.5 1255.1 1695.5 1250.9 1708.4 1249.0C1721.3 1247.1 1734.1 1247.0 1747.0 1246.4C1759.9 1245.8 1772.9 1245.9 1785.8 1245.2C1798.7 1244.5 1811.7 1243.0 1824.6 1242.0C1837.5 1241.0 1850.4 1240.3 1863.3 1239.4C1876.2 1238.5 1889.1 1237.6 1902.0 1236.7C1914.9 1235.8 1927.9 1234.7 1940.8 1234.0C1953.7 1233.3 1969.8 1233.2 1979.5 1232.5C1989.2 1231.8 1989.2 1230.2 1998.9 1229.7C2008.6 1229.2 2026.6 1229.2 2037.6 1229.7C2048.6 1230.2 2055.0 1232.1 2064.7 1232.8C2074.4 1233.5 2085.4 1233.2 2095.7 1234.0C2106.0 1234.8 2118.2 1236.4 2126.6 1237.5C2135.0 1238.6 2139.5 1240.4 2146.0 1240.6C2152.5 1240.8 2157.7 1238.8 2165.4 1238.7C2173.2 1238.6 2184.8 1239.6 2192.5 1240.2C2200.2 1240.8 2206.1 1241.5 2211.9 1242.5C2217.7 1243.5 2221.0 1245.8 2227.4 1246.4C2233.8 1247.0 2243.5 1245.6 2250.6 1246.0C2257.7 1246.4 2264.8 1248.8 2270.0 1249.0C2275.2 1249.2 2278.7 1248.2 2281.6 1247.2C2284.5 1246.2 2286.4 1244.0 2287.4 1243.3" transform="translate(1.1 0)"/></g>
</g>
</svg>
</body></html>
